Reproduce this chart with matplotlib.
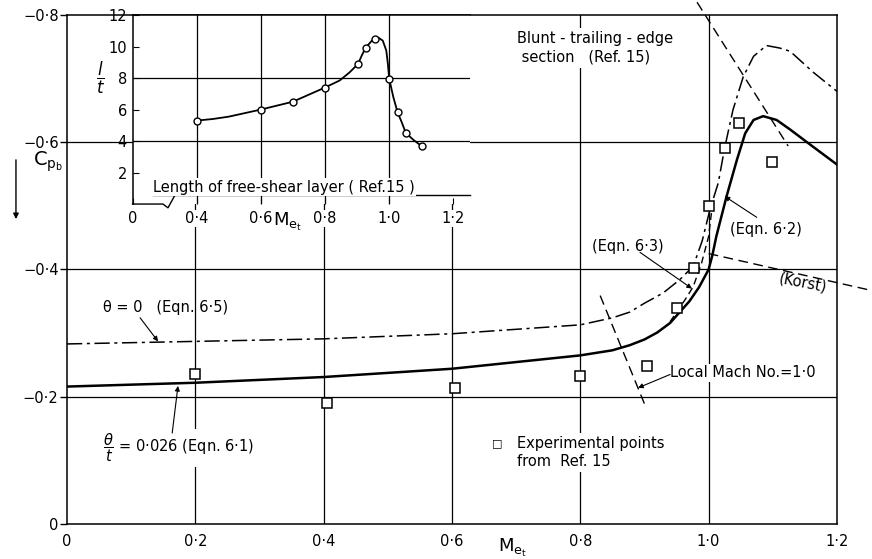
import matplotlib.pyplot as plt

# main chart: base pressure coefficient against Mach number
solid_M = [0.0, 0.2, 0.4, 0.6, 0.8, 0.85, 0.877, 0.9, 0.92, 0.94, 0.97, 0.985, 1.0,
           1.006, 1.012, 1.028, 1.044, 1.057, 1.07, 1.085, 1.106, 1.127, 1.16, 1.2]
solid_cp = [-0.216, -0.222, -0.231, -0.244, -0.265, -0.273, -0.281, -0.290, -0.301,
            -0.316, -0.350, -0.372, -0.400, -0.423, -0.452, -0.515, -0.572, -0.614,
            -0.635, -0.641, -0.635, -0.620, -0.595, -0.565]

dashdot_M = [0.0, 0.2, 0.4, 0.6, 0.8, 0.85, 0.877, 0.9, 0.929, 0.955, 0.976, 0.99,
             1.002, 1.015, 1.025, 1.038, 1.054, 1.07, 1.09, 1.111, 1.127, 1.163, 1.2]
dashdot_cp = [-0.283, -0.287, -0.291, -0.299, -0.313, -0.324, -0.333, -0.347, -0.363,
              -0.384, -0.405, -0.445, -0.494, -0.536, -0.591, -0.651, -0.703, -0.735,
              -0.752, -0.748, -0.743, -0.710, -0.680]

# Eqn 6.3 branch between the two curves
eqn63_M = [0.94, 0.963, 0.976, 0.989, 1.0, 1.005]
eqn63_cp = [-0.318, -0.352, -0.373, -0.410, -0.452, -0.494]

exp_M = [0.2, 0.405, 0.605, 0.8, 0.904, 0.951, 0.977, 1.0, 1.025, 1.047, 1.099]
exp_cp = [-0.236, -0.19, -0.214, -0.233, -0.249, -0.339, -0.402, -0.5, -0.591, -0.63, -0.569]

# local Mach number = 1 lines and Korst line
sonic_low_M = [0.831, 0.902]
sonic_low_cp = [-0.359, -0.184]
sonic_high_M = [0.982, 1.124]
sonic_high_cp = [-0.82, -0.594]
korst_M = [1.0, 1.254]
korst_cp = [-0.425, -0.367]

x_ticks = [0, 0.2, 0.4, 0.6, 0.8, 1.0, 1.2]
x_tick_labels = ['0', '0·2', '0·4', '0·6', '0·8', '1·0', '1·2']
y_ticks = [0, -0.2, -0.4, -0.6, -0.8]
y_tick_labels = ['0', '−0·2', '−0·4', '−0·6', '−0·8']

# inset: length of free-shear layer
inset_pts_M = [0.40, 0.60, 0.70, 0.80, 0.903, 0.927, 0.955, 1.00, 1.026, 1.052, 1.102]
inset_pts_L = [5.3, 6.0, 6.5, 7.4, 8.9, 9.94, 10.49, 7.96, 5.84, 4.51, 3.67]
inset_curve_M = [0.40, 0.45, 0.50, 0.60, 0.70, 0.80, 0.846, 0.877, 0.903, 0.915, 0.927,
                 0.945, 0.955, 0.966, 0.98, 0.991, 0.996, 1.0, 1.013, 1.026, 1.039,
                 1.052, 1.077, 1.102]
inset_curve_L = [5.3, 5.4, 5.55, 6.0, 6.5, 7.4, 7.85, 8.37, 8.9, 9.45, 9.94,
                 10.35, 10.49, 10.57, 10.38, 9.75, 8.9, 7.96, 6.79, 5.84, 5.2,
                 4.51, 4.05, 3.67]
inset_x_ticks = [0.2, 0.4, 0.6, 0.8, 1.0, 1.2]
inset_x_labels = ['0', '0·4', '0·6', '0·8', '1·0', '1·2']
inset_y_ticks = [2, 4, 6, 8, 10, 12]

plt.rcParams['font.family'] = ['DejaVu Sans']
fig = plt.figure(figsize=(8.72, 5.59), dpi=100)
ax = fig.add_axes([0.0768, 0.0626, 0.8830, 0.9106])
ax.set_xlim(0, 1.2)
ax.set_ylim(0, -0.8)
ax.set_xticks(x_ticks)
ax.set_xticklabels(x_tick_labels)
ax.set_yticks(y_ticks)
ax.set_yticklabels(y_tick_labels)
ax.tick_params(axis='x', length=0, pad=7, labelsize=10.5)
ax.tick_params(axis='y', length=5, width=1, pad=1, labelsize=10.5)
for s in ax.spines.values():
    s.set_linewidth(1.1)

for v in [0.2, 0.4, 0.6, 0.8, 1.0]:
    ax.axvline(v, color='black', lw=0.9, zorder=1)
for h in [-0.2, -0.4, -0.6]:
    ax.axhline(h, color='black', lw=0.9, zorder=1)

ax.plot(solid_M, solid_cp, color='black', lw=1.8, zorder=3)
ax.plot(dashdot_M, dashdot_cp, color='black', lw=1.1, ls=(0, (10, 3, 2, 3)), zorder=3)
ax.plot(eqn63_M, eqn63_cp, color='black', lw=1.0, ls=(0, (5, 3)), zorder=3)
ax.plot(sonic_low_M, sonic_low_cp, color='black', lw=1.0, ls=(0, (7, 4)), zorder=3)
ax.plot(sonic_high_M, sonic_high_cp, color='black', lw=1.0, ls=(0, (7, 4)),
        zorder=3, clip_on=False)
ax.plot(korst_M, korst_cp, color='black', lw=1.0, ls=(0, (7, 4)), zorder=3, clip_on=False)
ax.plot(exp_M, exp_cp, ls='none', marker='s', ms=6.5, mfc='white', mec='black',
        mew=1.1, zorder=4)

white = dict(facecolor='white', edgecolor='none', pad=2)
fs = 10.5
ax.text(0.701, -0.748, 'Blunt - trailing - edge\n section   (Ref. 15)', fontsize=fs,
        ha='left', va='center', linespacing=1.3, bbox=white, zorder=2)
ax.text(1.033, -0.463, '(Eqn. 6·2)', fontsize=fs, ha='left', va='center')
ax.text(0.818, -0.436, '(Eqn. 6·3)', fontsize=fs, ha='left', va='center')
ax.text(1.147, -0.379, '(Korst)', fontsize=fs, ha='center', va='center', rotation=-11,
        bbox=dict(facecolor='white', edgecolor='none', pad=0.5), zorder=2)
ax.text(0.056, -0.34, 'θ = 0   (Eqn. 6·5)', fontsize=fs, ha='left', va='center')
ax.text(0.056, -0.12, r'$\dfrac{\theta}{t}$ = 0·026 (Eqn. 6·1)', fontsize=fs,
        ha='left', va='center', bbox=white, zorder=2)
ax.text(0.94, -0.238, 'Local Mach No.=1·0', fontsize=fs, ha='left', va='center',
        bbox=dict(facecolor='white', edgecolor='none', pad=1), zorder=2)
ax.text(0.670, -0.1276, '\u25a1', fontsize=8, ha='center', va='center')
ax.text(0.701, -0.1386, 'Experimental points\nfrom  Ref. 15', fontsize=fs, ha='left',
        va='top', linespacing=1.3, bbox=white, zorder=2)

arrow = dict(arrowstyle='-|>', color='black', lw=0.8, mutation_scale=7,
             shrinkA=0, shrinkB=0)
ax.annotate('', xy=(1.025, -0.515), xytext=(1.075, -0.482), arrowprops=arrow)
ax.annotate('', xy=(0.974, -0.370), xytext=(0.893, -0.427), arrowprops=arrow)
ax.annotate('', xy=(0.142, -0.287), xytext=(0.114, -0.324), arrowprops=arrow)
ax.annotate('', xy=(0.173, -0.217), xytext=(0.164, -0.143), arrowprops=arrow)
ax.annotate('', xy=(0.89, -0.214), xytext=(0.94, -0.235), arrowprops=arrow)

fig.text(0.588, 0.020, r'$\mathrm{M}_{\mathrm{e}_{\mathrm{t}}}$', fontsize=13,
         ha='center', va='center')
fig.text(0.055, 0.710, r'$\mathrm{C}_{\mathrm{p}_{\mathrm{b}}}$', fontsize=14,
         ha='center', va='center')
ax.annotate('', xy=(0.0183, 0.608), xytext=(0.0183, 0.714), xycoords='figure fraction',
            textcoords='figure fraction',
            arrowprops=dict(arrowstyle='-|>', color='black', lw=1.0, mutation_scale=8,
                            shrinkA=0, shrinkB=0))

# inset
ins = fig.add_axes([0.152, 0.635, 0.387, 0.338], zorder=5)
ins.set_facecolor('white')
ins.set_xlim(0.2, 1.252)
ins.set_ylim(0, 12)
ins.set_xticks(inset_x_ticks)
ins.set_xticklabels(inset_x_labels)
ins.set_yticks(inset_y_ticks)
ins.tick_params(axis='both', direction='in', length=4, labelsize=10.5)
ins.tick_params(axis='x', pad=5)
ins.tick_params(axis='y', pad=4)
for lbl in ins.get_xticklabels():
    lbl.set_bbox(dict(facecolor='white', edgecolor='none', pad=1))
ins.spines['right'].set_visible(False)
ins.spines['bottom'].set_visible(False)
ins.spines['left'].set_linewidth(1.1)
ins.spines['top'].set_linewidth(1.1)
for v in [0.4, 0.6, 0.8, 1.0]:
    ins.axvline(v, color='black', lw=0.9, zorder=1)
for h in [4, 8]:
    ins.axhline(h, color='black', lw=0.9, zorder=1)
ins.plot(inset_curve_M, inset_curve_L, color='black', lw=1.3, zorder=3)
ins.plot(inset_pts_M, inset_pts_L, ls='none', marker='o', ms=5, mfc='white',
         mec='black', mew=1.0, zorder=4)
# broken x axis and underlined caption
ins.plot([0, 0.09, 0.105, 0.126], [0, 0, -0.02, 0.048], color='black', lw=1.0,
         transform=ins.transAxes, clip_on=False)
ins.plot([0.061, 1.0], [0.048, 0.048], color='black', lw=1.0,
         transform=ins.transAxes, clip_on=False)
ins.text(0.061, 0.088, 'Length of free-shear layer ( Ref.15 )', fontsize=fs,
         ha='left', va='center', transform=ins.transAxes,
         bbox=dict(facecolor='white', edgecolor='none', pad=1))
fig.text(0.1147, 0.860, r'$\dfrac{l}{t}$', fontsize=12, ha='center', va='center')
fig.text(0.330, 0.603, r'$\mathrm{M}_{\mathrm{e}_{\mathrm{t}}}$', fontsize=13,
         ha='center', va='center', zorder=10)

plt.savefig('out.png', dpi=100)
